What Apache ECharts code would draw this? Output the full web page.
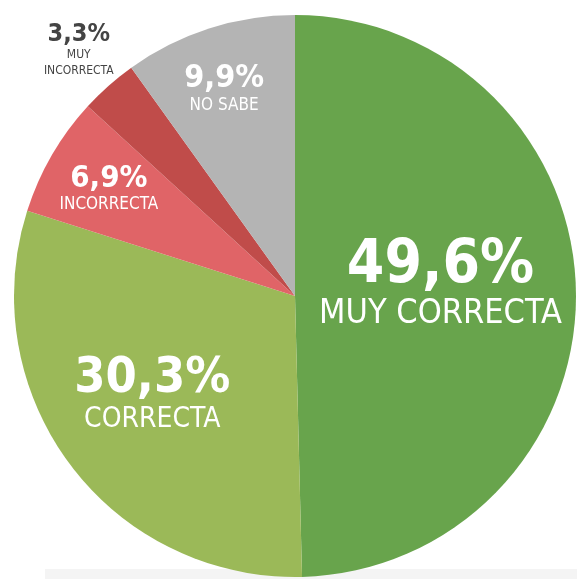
<!DOCTYPE html>
<html lang="es">
<head>
    <meta charset="UTF-8">
    <title>Valoración</title>
    <script src="https://cdn.jsdelivr.net/npm/echarts@6/dist/echarts.min.js"></script>
    <style>
        html, body { margin: 0; padding: 0; background: #fff; }
    </style>
</head>
<body>
    <div id="main" style="width: 577px;height:579px;"></div>
    <script type="text/javascript">
        var myChart = echarts.init(document.getElementById('main'));

        // datos, en sentido horario desde las 12
        let names = ['MUY CORRECTA', 'CORRECTA', 'INCORRECTA', 'MUY\nINCORRECTA', 'NO SABE'];
        let values = [49.6, 30.3, 6.9, 3.3, 9.9];
        let colors = ['#68a44c', '#9bb958', '#e06467', '#c04c4a', '#b4b4b4'];

        // tamaño de letra y desplazamiento de cada etiqueta
        let labelCfg = [
            {p: 60, n: 34, nl: 36, offset: [2, -10], color: '#fff'},
            {p: 50, n: 28, nl: 32, offset: [-28, 13], color: '#fff'},
            {p: 31, n: 17, nl: 20, offset: [-62, -35], color: '#fff'},
            {p: 25, n: 12, nl: 16, offset: [-121, -138], color: '#444'},
            {p: 32, n: 17, nl: 22, offset: [-27, -70], color: '#fff'},
        ];

        let font = '"Liberation Sans Narrow", "DejaVu Sans Condensed", sans-serif';

        let pieData = names.map((n, i) => {
            let c = labelCfg[i];
            return {
                name: n,
                value: values[i],
                itemStyle: {color: colors[i]},
                label: {
                    offset: c.offset,
                    rich: {
                        p: {fontSize: c.p, fontWeight: 'bold', color: c.color, fontFamily: font, lineHeight: c.p},
                        n: {fontSize: c.n, color: c.color, fontFamily: font, lineHeight: c.nl},
                    },
                },
            };
        });

        let option = {
            animation: false,
            graphic: [{
                type: 'rect',
                z: -10,
                shape: {x: 45, y: 569, width: 540, height: 12},
                style: {fill: '#f4f4f4'},
            }],
            series: [{
                type: 'pie',
                center: [295, 296],
                radius: 281,
                startAngle: 90,
                clockwise: true,
                avoidLabelOverlap: false,
                itemStyle: {borderWidth: 0},
                label: {
                    show: true,
                    position: 'inside',
                    align: 'center',
                    formatter(p) {
                        let s = p.value.toFixed(1).replace('.', ',') + '%';
                        return '{p|' + s + '}\n' + p.name.split('\n').map(t => '{n|' + t + '}').join('\n');
                    },
                },
                labelLine: {show: false},
                emphasis: {disabled: true},
                data: pieData,
            }],
        };

        myChart.setOption(option);
    </script>
</body>
</html>
